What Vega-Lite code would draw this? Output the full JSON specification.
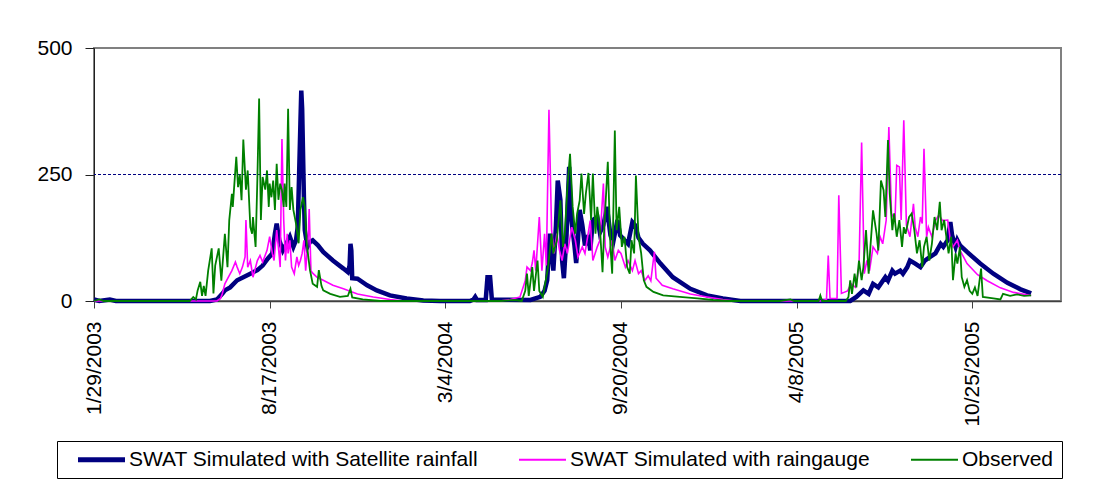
{
"$schema":"https://vega.github.io/schema/vega-lite/v6.json",
"width":967,"height":253,
"autosize":"none",
"padding":{"left":94,"top":48,"right":36,"bottom":189},
"background":"white",
"config":{"view":{"stroke":"#808080","strokeWidth":2},"font":"Liberation Sans"},
"datasets":{
"a":[
{"t":"2003-01-29","v":3},{"t":"2003-02-04","v":0},{"t":"2003-02-16","v":3},{"t":"2003-02-23","v":0},{"t":"2003-06-10","v":0},{"t":"2003-06-18","v":3},{"t":"2003-06-24","v":14},{"t":"2003-06-27","v":21},{"t":"2003-07-03","v":27},{"t":"2003-07-11","v":41},{"t":"2003-07-18","v":47},{"t":"2003-07-26","v":54},{"t":"2003-08-03","v":61},{"t":"2003-08-09","v":70},{"t":"2003-08-15","v":84},{"t":"2003-08-20","v":94},{"t":"2003-08-23","v":133},{"t":"2003-08-25","v":153},{"t":"2003-08-28","v":120},{"t":"2003-09-01","v":100},{"t":"2003-09-05","v":113},{"t":"2003-09-09","v":127},{"t":"2003-09-13","v":107},{"t":"2003-09-16","v":120},{"t":"2003-09-18","v":147},{"t":"2003-09-21","v":350},{"t":"2003-09-22","v":416},{"t":"2003-09-23","v":380},{"t":"2003-09-25","v":205},{"t":"2003-09-26","v":140},{"t":"2003-09-29","v":107},{"t":"2003-10-02","v":117},{"t":"2003-10-05","v":120},{"t":"2003-10-11","v":110},{"t":"2003-10-17","v":97},{"t":"2003-10-28","v":80},{"t":"2003-11-09","v":64},{"t":"2003-11-14","v":57},{"t":"2003-11-16","v":70},{"t":"2003-11-17","v":113},{"t":"2003-11-18","v":100},{"t":"2003-11-19","v":45},{"t":"2003-11-25","v":44},{"t":"2003-12-06","v":31},{"t":"2003-12-17","v":21},{"t":"2004-01-01","v":11},{"t":"2004-01-20","v":5},{"t":"2004-02-08","v":1},{"t":"2004-02-27","v":0},{"t":"2004-04-01","v":0},{"t":"2004-04-05","v":3},{"t":"2004-04-07","v":8},{"t":"2004-04-09","v":2},{"t":"2004-04-19","v":2},{"t":"2004-04-21","v":47},{"t":"2004-04-24","v":47},{"t":"2004-04-26","v":3},{"t":"2004-06-09","v":2},{"t":"2004-06-20","v":8},{"t":"2004-06-25","v":20},{"t":"2004-06-28","v":41},{"t":"2004-07-01","v":133},{"t":"2004-07-05","v":60},{"t":"2004-07-08","v":150},{"t":"2004-07-10","v":238},{"t":"2004-07-13","v":200},{"t":"2004-07-15","v":80},{"t":"2004-07-17","v":45},{"t":"2004-07-20","v":130},{"t":"2004-07-23","v":265},{"t":"2004-07-25","v":170},{"t":"2004-07-29","v":110},{"t":"2004-07-31","v":75},{"t":"2004-08-02","v":120},{"t":"2004-08-04","v":180},{"t":"2004-08-07","v":150},{"t":"2004-08-10","v":110},{"t":"2004-08-14","v":130},{"t":"2004-08-16","v":100},{"t":"2004-08-19","v":160},{"t":"2004-08-24","v":166},{"t":"2004-08-27","v":135},{"t":"2004-08-31","v":150},{"t":"2004-09-04","v":186},{"t":"2004-09-08","v":130},{"t":"2004-09-11","v":115},{"t":"2004-09-16","v":160},{"t":"2004-09-19","v":130},{"t":"2004-09-24","v":120},{"t":"2004-09-28","v":113},{"t":"2004-10-03","v":156},{"t":"2004-10-06","v":150},{"t":"2004-10-10","v":125},{"t":"2004-10-15","v":113},{"t":"2004-10-23","v":100},{"t":"2004-11-04","v":74},{"t":"2004-11-18","v":47},{"t":"2004-12-08","v":24},{"t":"2004-12-27","v":11},{"t":"2005-01-14","v":5},{"t":"2005-02-03","v":0},{"t":"2005-06-08","v":0},{"t":"2005-06-15","v":8},{"t":"2005-06-23","v":21},{"t":"2005-06-29","v":14},{"t":"2005-07-04","v":34},{"t":"2005-07-10","v":27},{"t":"2005-07-18","v":47},{"t":"2005-07-21","v":40},{"t":"2005-07-26","v":60},{"t":"2005-07-29","v":54},{"t":"2005-08-04","v":60},{"t":"2005-08-07","v":54},{"t":"2005-08-12","v":67},{"t":"2005-08-15","v":80},{"t":"2005-08-21","v":74},{"t":"2005-08-27","v":67},{"t":"2005-09-01","v":80},{"t":"2005-09-07","v":87},{"t":"2005-09-13","v":94},{"t":"2005-09-19","v":113},{"t":"2005-09-22","v":107},{"t":"2005-09-27","v":120},{"t":"2005-09-30","v":156},{"t":"2005-10-02","v":130},{"t":"2005-10-06","v":107},{"t":"2005-10-08","v":120},{"t":"2005-10-11","v":110},{"t":"2005-10-19","v":97},{"t":"2005-11-03","v":74},{"t":"2005-11-18","v":54},{"t":"2005-12-04","v":36},{"t":"2005-12-19","v":23},{"t":"2005-12-31","v":15}
],
"b":[
{"t":"2003-01-29","v":0},{"t":"2003-06-18","v":0},{"t":"2003-06-22","v":5},{"t":"2003-06-24","v":14},{"t":"2003-06-27","v":34},{"t":"2003-07-01","v":47},{"t":"2003-07-05","v":60},{"t":"2003-07-09","v":77},{"t":"2003-07-11","v":67},{"t":"2003-07-14","v":54},{"t":"2003-07-17","v":67},{"t":"2003-07-20","v":87},{"t":"2003-07-21","v":160},{"t":"2003-07-23","v":67},{"t":"2003-07-26","v":80},{"t":"2003-07-29","v":47},{"t":"2003-08-03","v":80},{"t":"2003-08-06","v":90},{"t":"2003-08-09","v":77},{"t":"2003-08-14","v":100},{"t":"2003-08-17","v":127},{"t":"2003-08-20","v":94},{"t":"2003-08-22","v":80},{"t":"2003-08-25","v":140},{"t":"2003-08-28","v":87},{"t":"2003-08-29","v":67},{"t":"2003-08-31","v":320},{"t":"2003-09-02","v":160},{"t":"2003-09-04","v":80},{"t":"2003-09-06","v":133},{"t":"2003-09-07","v":94},{"t":"2003-09-09","v":120},{"t":"2003-09-11","v":67},{"t":"2003-09-14","v":54},{"t":"2003-09-17","v":87},{"t":"2003-09-19","v":70},{"t":"2003-09-21","v":80},{"t":"2003-09-23","v":94},{"t":"2003-09-25","v":120},{"t":"2003-09-27","v":60},{"t":"2003-09-30","v":130},{"t":"2003-10-01","v":182},{"t":"2003-10-03","v":60},{"t":"2003-10-05","v":55},{"t":"2003-10-10","v":47},{"t":"2003-10-17","v":41},{"t":"2003-10-28","v":31},{"t":"2003-11-09","v":24},{"t":"2003-11-25","v":14},{"t":"2003-12-13","v":8},{"t":"2004-01-01","v":3},{"t":"2004-01-17","v":0},{"t":"2004-05-05","v":0},{"t":"2004-05-17","v":3},{"t":"2004-05-28","v":8},{"t":"2004-06-03","v":40},{"t":"2004-06-05","v":67},{"t":"2004-06-09","v":60},{"t":"2004-06-11","v":75},{"t":"2004-06-13","v":100},{"t":"2004-06-15","v":60},{"t":"2004-06-19","v":166},{"t":"2004-06-22","v":60},{"t":"2004-06-25","v":133},{"t":"2004-06-27","v":70},{"t":"2004-06-30","v":378},{"t":"2004-07-03","v":140},{"t":"2004-07-06","v":94},{"t":"2004-07-09","v":133},{"t":"2004-07-12","v":100},{"t":"2004-07-15","v":80},{"t":"2004-07-18","v":113},{"t":"2004-07-21","v":94},{"t":"2004-07-26","v":146},{"t":"2004-07-30","v":120},{"t":"2004-08-02","v":87},{"t":"2004-08-07","v":107},{"t":"2004-08-10","v":94},{"t":"2004-08-16","v":159},{"t":"2004-08-19","v":80},{"t":"2004-08-24","v":107},{"t":"2004-08-27","v":120},{"t":"2004-08-31","v":232},{"t":"2004-09-02","v":107},{"t":"2004-09-05","v":87},{"t":"2004-09-10","v":120},{"t":"2004-09-13","v":80},{"t":"2004-09-17","v":100},{"t":"2004-09-20","v":94},{"t":"2004-09-25","v":67},{"t":"2004-09-28","v":80},{"t":"2004-10-03","v":60},{"t":"2004-10-06","v":80},{"t":"2004-10-10","v":54},{"t":"2004-10-13","v":60},{"t":"2004-10-17","v":40},{"t":"2004-10-21","v":50},{"t":"2004-10-24","v":40},{"t":"2004-10-28","v":97},{"t":"2004-10-30","v":45},{"t":"2004-11-06","v":31},{"t":"2004-11-18","v":24},{"t":"2004-12-08","v":14},{"t":"2004-12-27","v":8},{"t":"2005-01-14","v":3},{"t":"2005-01-28","v":0},{"t":"2005-05-05","v":0},{"t":"2005-05-12","v":3},{"t":"2005-05-14","v":90},{"t":"2005-05-16","v":5},{"t":"2005-05-24","v":5},{"t":"2005-05-26","v":209},{"t":"2005-05-29","v":15},{"t":"2005-06-05","v":20},{"t":"2005-06-09","v":34},{"t":"2005-06-14","v":27},{"t":"2005-06-18","v":67},{"t":"2005-06-21","v":313},{"t":"2005-06-24","v":54},{"t":"2005-06-27","v":80},{"t":"2005-06-30","v":60},{"t":"2005-07-04","v":107},{"t":"2005-07-09","v":94},{"t":"2005-07-12","v":127},{"t":"2005-07-15","v":113},{"t":"2005-07-19","v":160},{"t":"2005-07-22","v":344},{"t":"2005-07-25","v":173},{"t":"2005-07-29","v":160},{"t":"2005-07-31","v":268},{"t":"2005-08-03","v":265},{"t":"2005-08-05","v":160},{"t":"2005-08-08","v":357},{"t":"2005-08-11","v":150},{"t":"2005-08-15","v":127},{"t":"2005-08-19","v":192},{"t":"2005-08-21","v":146},{"t":"2005-08-24","v":127},{"t":"2005-08-27","v":166},{"t":"2005-08-29","v":153},{"t":"2005-08-31","v":301},{"t":"2005-09-03","v":127},{"t":"2005-09-05","v":146},{"t":"2005-09-09","v":127},{"t":"2005-09-13","v":159},{"t":"2005-09-17","v":170},{"t":"2005-09-21","v":159},{"t":"2005-09-27","v":160},{"t":"2005-09-30","v":120},{"t":"2005-10-03","v":107},{"t":"2005-10-08","v":120},{"t":"2005-10-11","v":100},{"t":"2005-10-15","v":87},{"t":"2005-10-19","v":74},{"t":"2005-10-31","v":52},{"t":"2005-11-11","v":40},{"t":"2005-11-26","v":26},{"t":"2005-12-11","v":17},{"t":"2005-12-31","v":11}
],
"c":[
{"t":"2003-01-29","v":0},{"t":"2003-02-04","v":3},{"t":"2003-02-09","v":0},{"t":"2003-05-18","v":0},{"t":"2003-05-22","v":8},{"t":"2003-05-25","v":3},{"t":"2003-05-27","v":21},{"t":"2003-05-30","v":38},{"t":"2003-06-01","v":10},{"t":"2003-06-03","v":30},{"t":"2003-06-05","v":10},{"t":"2003-06-08","v":60},{"t":"2003-06-12","v":104},{"t":"2003-06-14","v":15},{"t":"2003-06-16","v":70},{"t":"2003-06-20","v":104},{"t":"2003-06-23","v":40},{"t":"2003-06-27","v":133},{"t":"2003-06-30","v":67},{"t":"2003-07-02","v":160},{"t":"2003-07-05","v":212},{"t":"2003-07-06","v":186},{"t":"2003-07-10","v":285},{"t":"2003-07-12","v":225},{"t":"2003-07-14","v":250},{"t":"2003-07-16","v":199},{"t":"2003-07-18","v":319},{"t":"2003-07-21","v":220},{"t":"2003-07-23","v":258},{"t":"2003-07-26","v":146},{"t":"2003-07-28","v":133},{"t":"2003-07-29","v":166},{"t":"2003-08-01","v":107},{"t":"2003-08-03","v":240},{"t":"2003-08-05","v":400},{"t":"2003-08-07","v":160},{"t":"2003-08-09","v":245},{"t":"2003-08-12","v":220},{"t":"2003-08-14","v":258},{"t":"2003-08-16","v":186},{"t":"2003-08-17","v":232},{"t":"2003-08-19","v":205},{"t":"2003-08-21","v":238},{"t":"2003-08-23","v":180},{"t":"2003-08-25","v":271},{"t":"2003-08-27","v":200},{"t":"2003-08-29","v":232},{"t":"2003-08-31","v":219},{"t":"2003-09-02","v":186},{"t":"2003-09-03","v":232},{"t":"2003-09-05","v":186},{"t":"2003-09-07","v":380},{"t":"2003-09-09","v":180},{"t":"2003-09-11","v":225},{"t":"2003-09-13","v":180},{"t":"2003-09-16","v":153},{"t":"2003-09-19","v":114},{"t":"2003-09-21","v":180},{"t":"2003-09-24","v":205},{"t":"2003-09-26","v":186},{"t":"2003-09-28","v":120},{"t":"2003-09-30","v":87},{"t":"2003-10-02","v":60},{"t":"2003-10-05","v":34},{"t":"2003-10-10","v":28},{"t":"2003-10-12","v":61},{"t":"2003-10-15","v":30},{"t":"2003-10-17","v":21},{"t":"2003-10-25","v":14},{"t":"2003-11-05","v":8},{"t":"2003-11-14","v":10},{"t":"2003-11-17","v":24},{"t":"2003-11-19","v":7},{"t":"2003-12-01","v":3},{"t":"2003-12-21","v":0},
{"t":"2004-05-05","v":0},{"t":"2004-05-22","v":2},{"t":"2004-05-30","v":0},{"t":"2004-06-03","v":20},{"t":"2004-06-05","v":54},{"t":"2004-06-07","v":10},{"t":"2004-06-11","v":67},{"t":"2004-06-13","v":20},{"t":"2004-06-17","v":80},{"t":"2004-06-19","v":20},{"t":"2004-06-23","v":8},{"t":"2004-06-29","v":67},{"t":"2004-07-03","v":133},{"t":"2004-07-05","v":94},{"t":"2004-07-09","v":120},{"t":"2004-07-13","v":199},{"t":"2004-07-16","v":107},{"t":"2004-07-18","v":133},{"t":"2004-07-21","v":225},{"t":"2004-07-24","v":291},{"t":"2004-07-27","v":186},{"t":"2004-07-30","v":133},{"t":"2004-08-01","v":172},{"t":"2004-08-04","v":199},{"t":"2004-08-06","v":252},{"t":"2004-08-09","v":172},{"t":"2004-08-11","v":212},{"t":"2004-08-14","v":253},{"t":"2004-08-17","v":160},{"t":"2004-08-19","v":252},{"t":"2004-08-22","v":133},{"t":"2004-08-24","v":186},{"t":"2004-08-27","v":146},{"t":"2004-08-30","v":57},{"t":"2004-09-01","v":146},{"t":"2004-09-05","v":275},{"t":"2004-09-08","v":107},{"t":"2004-09-10","v":54},{"t":"2004-09-13","v":337},{"t":"2004-09-15","v":140},{"t":"2004-09-18","v":186},{"t":"2004-09-21","v":107},{"t":"2004-09-24","v":127},{"t":"2004-09-27","v":67},{"t":"2004-09-30","v":54},{"t":"2004-10-02","v":120},{"t":"2004-10-05","v":94},{"t":"2004-10-07","v":248},{"t":"2004-10-10","v":126},{"t":"2004-10-13","v":94},{"t":"2004-10-16","v":41},{"t":"2004-10-19","v":28},{"t":"2004-10-27","v":18},{"t":"2004-11-07","v":11},{"t":"2004-11-26","v":8},{"t":"2004-12-16","v":5},{"t":"2005-01-03","v":2},{"t":"2005-01-22","v":0},
{"t":"2005-03-20","v":0},{"t":"2005-04-01","v":3},{"t":"2005-04-05","v":0},{"t":"2005-05-03","v":0},{"t":"2005-05-05","v":11},{"t":"2005-05-07","v":0},{"t":"2005-06-03","v":0},{"t":"2005-06-06","v":8},{"t":"2005-06-08","v":41},{"t":"2005-06-10","v":14},{"t":"2005-06-13","v":54},{"t":"2005-06-15","v":27},{"t":"2005-06-18","v":80},{"t":"2005-06-21","v":41},{"t":"2005-06-23","v":67},{"t":"2005-06-26","v":140},{"t":"2005-06-29","v":54},{"t":"2005-07-01","v":107},{"t":"2005-07-04","v":179},{"t":"2005-07-08","v":133},{"t":"2005-07-10","v":100},{"t":"2005-07-13","v":238},{"t":"2005-07-16","v":219},{"t":"2005-07-18","v":166},{"t":"2005-07-21","v":318},{"t":"2005-07-23","v":212},{"t":"2005-07-26","v":140},{"t":"2005-07-28","v":173},{"t":"2005-07-31","v":127},{"t":"2005-08-03","v":160},{"t":"2005-08-06","v":107},{"t":"2005-08-08","v":146},{"t":"2005-08-10","v":133},{"t":"2005-08-14","v":166},{"t":"2005-08-17","v":173},{"t":"2005-08-20","v":140},{"t":"2005-08-23","v":94},{"t":"2005-08-26","v":120},{"t":"2005-08-29","v":67},{"t":"2005-08-31","v":107},{"t":"2005-09-03","v":127},{"t":"2005-09-06","v":80},{"t":"2005-09-09","v":113},{"t":"2005-09-12","v":166},{"t":"2005-09-15","v":140},{"t":"2005-09-18","v":196},{"t":"2005-09-20","v":140},{"t":"2005-09-23","v":160},{"t":"2005-09-26","v":120},{"t":"2005-09-28","v":94},{"t":"2005-10-01","v":127},{"t":"2005-10-03","v":41},{"t":"2005-10-06","v":94},{"t":"2005-10-08","v":74},{"t":"2005-10-11","v":107},{"t":"2005-10-13","v":47},{"t":"2005-10-16","v":28},{"t":"2005-10-19","v":41},{"t":"2005-10-22","v":20},{"t":"2005-10-25","v":14},{"t":"2005-10-28","v":27},{"t":"2005-10-31","v":10},{"t":"2005-11-04","v":64},{"t":"2005-11-06","v":8},{"t":"2005-11-18","v":5},{"t":"2005-11-26","v":3},{"t":"2005-11-29","v":14},{"t":"2005-12-07","v":10},{"t":"2005-12-15","v":13},{"t":"2005-12-23","v":10},{"t":"2005-12-31","v":11}
]
},
"layer":[
{"data":{"values":[{}]},"mark":{"type":"rule","color":"#000080","strokeDash":[3,2],"strokeWidth":1},"encoding":{"y":{"datum":250,"type":"quantitative"}}},
{"data":{"name":"a"},"mark":{"type":"line","strokeWidth":4.5},
 "encoding":{
  "x":{"field":"t","type":"temporal","scale":{"type":"utc","domain":[{"year":2003,"month":1,"date":29,"utc":true},{"year":2006,"month":2,"date":3,"utc":true}]},
   "axis":{"title":null,"grid":false,"values":[{"year":2003,"month":1,"date":29,"utc":true},{"year":2003,"month":8,"date":17,"utc":true},{"year":2004,"month":3,"date":4,"utc":true},{"year":2004,"month":9,"date":20,"utc":true},{"year":2005,"month":4,"date":8,"utc":true},{"year":2005,"month":10,"date":25,"utc":true}],
   "format":"%-m/%-d/%Y","labelAngle":-90,"labelFontSize":21,"labelFont":"Liberation Sans","labelColor":"black","tickSize":7,"labelPadding":13,"domainColor":"#404040","tickColor":"#404040","domainWidth":1.5,"labelFlush":false,"labelOverlap":false}},
  "y":{"field":"v","type":"quantitative","scale":{"domain":[0,500]},"axis":{"title":null,"grid":false,"values":[0,250,500],"labelFontSize":21,"labelFont":"Liberation Sans","labelColor":"black","tickSize":9,"labelPadding":13,"domainColor":"#202020","tickColor":"#202020"}},
  "color":{"datum":"a","type":"nominal","scale":{"domain":["a","b","c"],"range":["#000080","#FF00FF","#008000"]},
   "legend":{"title":null,"orient":"none","legendX":-37,"legendY":393,"direction":"horizontal","labelExpr":"datum.value==='a'?'SWAT Simulated with  Satellite rainfall':datum.value==='b'?'SWAT Simulated with  raingauge':'Observed'","labelFontSize":21,"labelFont":"Liberation Sans","labelColor":"black","labelLimit":600,"symbolType":"stroke","symbolSize":2209,"symbolStrokeWidth":2,"symbolOffset":26,"strokeColor":"black","padding":8,"columnPadding":22,"labelOffset":17,
   "encode":{"symbols":{"update":{"strokeWidth":{"signal":"datum.value==='a'?5:2"}}}}}}
 }},
{"data":{"name":"b"},"mark":{"type":"line","strokeWidth":1.6},
 "encoding":{"x":{"field":"t","type":"temporal"},"y":{"field":"v","type":"quantitative"},"color":{"datum":"b","type":"nominal"}}},
{"data":{"name":"c"},"mark":{"type":"line","strokeWidth":1.8},
 "encoding":{"x":{"field":"t","type":"temporal"},"y":{"field":"v","type":"quantitative"},"color":{"datum":"c","type":"nominal"}}}
]
}
